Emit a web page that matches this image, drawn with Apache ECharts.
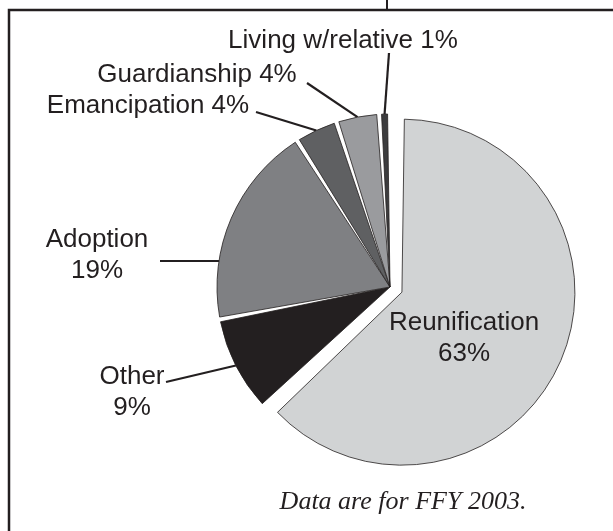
<!DOCTYPE html>
<html><head><meta charset="utf-8">
<script src="https://cdn.jsdelivr.net/npm/echarts@6/dist/echarts.min.js"></script>
<style>html,body{margin:0;padding:0;background:#fff}#c{width:613px;height:531px}</style>
</head><body><div id="c"></div>
<script>
// ---- data ----
const categories = ['Reunification', 'Other', 'Adoption', 'Emancipation', 'Guardianship', 'Living w/relative'];
const percents = [63, 9, 19, 4, 4, 1];
const labelTemplates = ['{gap| }\n{b}\n{c}%', '{b}\n{c}%', '{b}\n{c}%', '{b} {c}%', '{b} {c}%', '{b} {c}%'];
const note = 'Data are for FFY 2003.';

// ---- styles / layout ----
const sliceColors = ['#d1d3d4', '#231f20', '#7f8083', '#5f6062', '#9a9b9e', '#3c3c3e'];
const PIE_CENTER = [390, 287];
const PIE_R = 173;
const labelPlace = [
  null,
  { x: 132, y: 392, ax: 166, ay: 382 },
  { x: 97, y: 255, ax: 160, ay: 261, horiz: true },
  { x: 148, y: 106, ax: 256, ay: 112 },
  { x: 197, y: 75, ax: 307, ay: 83 },
  { x: 343, y: 41, ax: 389, ay: 53 }
];
// shifts the inside label of the exploded slice (left 20)
const insideLabelPadding = [0, 40, 0, 0];
const insideRich = { gap: { lineHeight: 22, fontSize: 10 } };
const ink = '#231f20';

const chart = echarts.init(document.getElementById('c'), null, { renderer: 'canvas' });
chart.setOption({
  animation: false,
  backgroundColor: '#fff',
  title: {
    text: note,
    left: 398, top: 497,
    textAlign: 'center', textVerticalAlign: 'middle',
    textStyle: { fontFamily: 'Liberation Serif', fontStyle: 'italic', fontWeight: 'normal', fontSize: 26, color: ink }
  },
  graphic: [
    { type: 'rect', silent: true, shape: { x: 9, y: 10, width: 640, height: 560 },
      style: { fill: 'none', stroke: ink, lineWidth: 2.5 } },
    { type: 'line', silent: true, shape: { x1: 387, y1: 0, x2: 387, y2: 10 },
      style: { stroke: ink, lineWidth: 2 } }
  ],
  series: [{
    type: 'pie',
    center: PIE_CENTER,
    radius: PIE_R,
    startAngle: 90,
    clockwise: true,
    padAngle: 1.6,
    selectedMode: 'single',
    selectedOffset: 13,
    avoidLabelOverlap: false,
    emphasis: { disabled: true },
    itemStyle: { borderColor: ink, borderWidth: 0.8 },
    label: {
      show: true, position: 'outside',
      fontFamily: 'Liberation Sans', fontSize: 26, lineHeight: 31, color: ink
    },
    labelLine: { show: true, smooth: false, lineStyle: { color: ink, width: 2.2 } },
    labelLayout: function (p) {
      const lp = labelPlace[p.dataIndex];
      if (!lp) return {};
      const out = { x: lp.x, y: lp.y, align: 'center', verticalAlign: 'middle' };
      if (p.labelLinePoints) {
        let end = p.labelLinePoints[0];
        if (lp.horiz) {
          const dy = lp.ay - PIE_CENTER[1];
          end = [PIE_CENTER[0] - Math.sqrt(PIE_R * PIE_R - dy * dy), lp.ay];
        }
        out.labelLinePoints = [[lp.ax, lp.ay], end];
      }
      return out;
    },
    data: categories.map(function (n, i) {
      const d = {
        name: n, value: percents[i],
        itemStyle: { color: sliceColors[i] },
        label: { formatter: labelTemplates[i] }
      };
      if (i === 0) {
        d.selected = true;
        d.label.position = 'inside';
        d.label.padding = insideLabelPadding;
        d.label.rich = insideRich;
        d.labelLine = { show: false };
        d.select = { label: { padding: insideLabelPadding, rich: insideRich } };
      }
      return d;
    })
  }]
});
</script>
</body></html>
